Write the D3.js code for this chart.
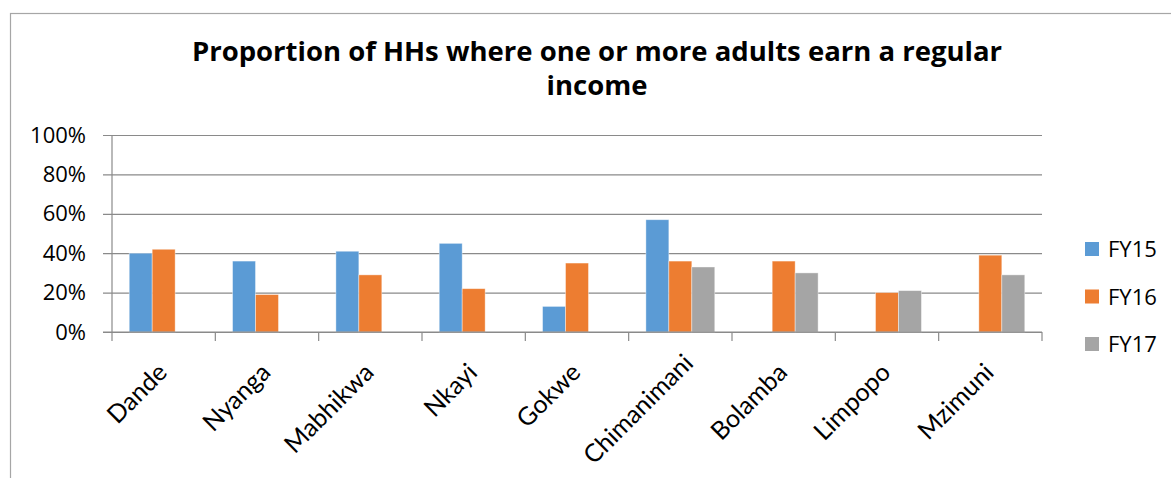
<!DOCTYPE html>
<html>
<head>
<meta charset="utf-8">
<script src="https://cdn.jsdelivr.net/npm/d3@7"></script>
<style>
  html, body { margin: 0; padding: 0; background: #fff; }
  svg { display: block; }
</style>
</head>
<body>
<svg id="chart" width="1171" height="478"></svg>
<script>
// ---- data ----
const categories = ["Dande", "Nyanga", "Mabhikwa", "Nkayi", "Gokwe", "Chimanimani", "Bolamba", "Limpopo", "Mzimuni"];
const seriesNames = ["FY15", "FY16", "FY17"];
const fy15 = [0.40, 0.36, 0.41, 0.45, 0.13, 0.57, null, null, null];
const fy16 = [0.42, 0.19, 0.29, 0.22, 0.35, 0.36, 0.36, 0.20, 0.39];
const fy17 = [null, null, null, null, null, 0.33, 0.30, 0.21, 0.29];
const yTicks = [0, 0.2, 0.4, 0.6, 0.8, 1.0];
const titleLines = ["Proportion of HHs where one or more adults earn a regular", "income"];

const seriesValues = [fy15, fy16, fy17];
const colors = ["#5B9BD5", "#ED7D31", "#A5A5A5"];

const svg = d3.select("#chart");

// chart border (extends past right/bottom edges)
svg.append("rect")
  .attr("x", 10.5).attr("y", 13.5)
  .attr("width", 1300).attr("height", 600)
  .attr("fill", "none").attr("stroke", "#a6a6a6").attr("stroke-width", 1.2);

// title (two lines)
const titleBaselines = [61, 95];
titleLines.forEach((t, i) => {
  svg.append("text")
    .attr("x", 597).attr("y", titleBaselines[i])
    .attr("text-anchor", "middle")
    .attr("font-family", "'Open Sans', Lato, sans-serif")
    .attr("font-weight", "bold")
    .attr("font-size", 27.5)
    .attr("fill", "#000")
    .text(t);
});

const pLeft = 112, pRight = 1042, pTop = 135, pBottom = 332;

const x = d3.scaleBand().domain(categories).range([pLeft, pRight]).padding(0);
const xs = d3.scaleBand().domain(seriesNames).range([0, x.bandwidth()]).paddingInner(0).paddingOuter(0.75);
const y = d3.scaleLinear().domain([0, 1]).range([pBottom, pTop]);

// gridlines + y axis
const yAxis = d3.axisLeft(y).tickValues(yTicks).tickSize(-(pRight - pLeft)).tickSizeOuter(0)
  .tickFormat(d3.format(".0%")).tickPadding(26);
const gy = svg.append("g").attr("transform", `translate(${pLeft},0)`).call(yAxis);
gy.select(".domain").remove();
gy.selectAll(".tick line")
  .attr("x1", -9)
  .attr("stroke", "#8a8a8a").attr("stroke-width", 1.2);
gy.selectAll(".tick text")
  .attr("font-family", "'Open Sans', sans-serif")
  .attr("font-size", 22)
  .attr("fill", "#000");

// y axis line
svg.append("line")
  .attr("x1", pLeft).attr("x2", pLeft).attr("y1", pTop).attr("y2", pBottom)
  .attr("stroke", "#8a8a8a").attr("stroke-width", 1.2);

// bars
seriesNames.forEach((s, si) => {
  const vals = seriesValues[si];
  svg.append("g").selectAll("rect")
    .data(categories.map((c, i) => ({ c, v: vals[i] })).filter(d => d.v != null))
    .join("rect")
    .attr("x", d => x(d.c) + xs(s))
    .attr("width", xs.bandwidth())
    .attr("y", d => y(d.v))
    .attr("height", d => y(0) - y(d.v))
    .attr("fill", colors[si])
    .attr("stroke", "#ffffff").attr("stroke-opacity", 0.5).attr("stroke-width", 0.8);
});

// x axis line and ticks at category boundaries
svg.append("line")
  .attr("x1", pLeft - 9).attr("x2", pRight).attr("y1", pBottom).attr("y2", pBottom)
  .attr("stroke", "#8a8a8a").attr("stroke-width", 1.2);
const boundaries = categories.map(c => x(c)).concat([x(categories[categories.length - 1]) + x.bandwidth()]);
svg.append("g").selectAll("line")
  .data(boundaries)
  .join("line")
  .attr("x1", d => d).attr("x2", d => d)
  .attr("y1", pBottom).attr("y2", pBottom + 9)
  .attr("stroke", "#8a8a8a").attr("stroke-width", 1.2);

// category labels (rotated; long labels slide up along their diagonal to fit, like Excel)
const labelBottomLimit = 469;
svg.append("g").selectAll("text")
  .data(categories)
  .join("text")
  .attr("text-anchor", "end")
  .attr("font-family", "Lato, sans-serif")
  .attr("font-size", 25)
  .attr("fill", "#000")
  .text(d => d)
  .each(function(d) {
    let ax = x(d) + x.bandwidth() / 2 + 5, ay = pBottom + 42;
    const el = d3.select(this);
    el.attr("transform", `translate(${ax},${ay}) rotate(-45)`);
    const r = this.getBoundingClientRect();
    const over = r.bottom - labelBottomLimit;
    if (over > 0) {
      ax += over; ay -= over;
      el.attr("transform", `translate(${ax},${ay}) rotate(-45)`);
    }
  });

// legend
const legend = svg.append("g");
seriesNames.forEach((s, i) => {
  const cy = 249 + i * 47.5;
  legend.append("rect")
    .attr("x", 1085).attr("y", cy - 7).attr("width", 14).attr("height", 14)
    .attr("fill", colors[i]);
  legend.append("text")
    .attr("x", 1108).attr("y", cy + 8)
    .attr("font-family", "'Open Sans', sans-serif")
    .attr("font-size", 22)
    .attr("fill", "#000")
    .text(s);
});
</script>
</body>
</html>
